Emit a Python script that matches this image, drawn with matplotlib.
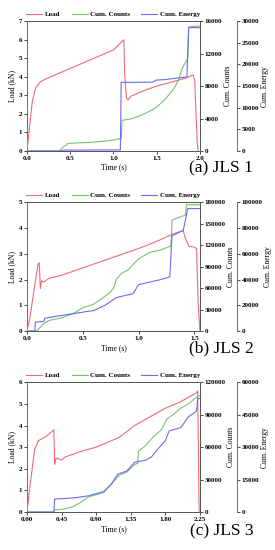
"""
Load / cumulative AE counts / cumulative AE energy vs time for three JLS specimens.
Stacked panels, each with two right-hand axes.
"""

import matplotlib
matplotlib.use("Agg")
import matplotlib.pyplot as plt

plt.rcParams["font.family"] = ["Liberation Serif", "DejaVu Serif"]
plt.rcParams["font.weight"] = "bold"

RED = "#ee6b77"
GREEN = "#74c474"
BLUE = "#6b6bf0"

# ── JLS 1 ─────────────────────────────────────────────────────────────────────
t_load_1 = [0, 0.03, 0.06, 0.1, 0.15, 0.2, 0.35, 0.5, 0.7, 0.9, 1.0, 1.12, 1.13, 1.15,
            1.17, 1.2, 1.35, 1.5, 1.7, 1.85, 1.92, 1.94, 1.95, 1.97, 1.98]
load_1 = [0, 1.3, 2.6, 3.4, 3.7, 3.85, 4.15, 4.45, 4.85, 5.25, 5.45, 6.0, 4.2, 2.85,
          2.75, 2.95, 3.25, 3.5, 3.75, 3.95, 4.1, 3.8, 2.5, 0.4, 0]
t_cnt_1 = [0, 0.38, 0.4, 0.43, 0.45, 0.47, 0.5, 0.7, 0.9, 1.0, 1.07, 1.09, 1.1, 1.2,
           1.3, 1.4, 1.5, 1.6, 1.7, 1.75, 1.8, 1.85, 1.86, 1.87, 2.0]
cnt_1 = [0, 0, 300, 600, 700, 900, 950, 1050, 1200, 1350, 1500, 1500, 3770, 3950,
         4300, 4800, 5400, 6400, 7700, 8700, 10300, 11200, 11500, 15300, 15400]
t_eng_1 = [0, 0.4, 0.42, 1.08, 1.09, 1.45, 1.5, 1.6, 1.75, 1.85, 1.86, 1.87, 2.0]
eng_1 = [0, 0, 200, 250, 15850, 15900, 16400, 16500, 16900, 17100, 23000, 28500, 28500]

# ── JLS 2 ─────────────────────────────────────────────────────────────────────
t_load_2 = [0, 0.03, 0.06, 0.1, 0.11, 0.12, 0.13, 0.15, 0.2, 0.3, 0.5, 0.7, 0.9,
            1.0, 1.1, 1.2, 1.3, 1.4, 1.42, 1.45, 1.5, 1.52, 1.535, 1.55]
load_2 = [0, 0.6, 1.5, 2.6, 2.65, 1.65, 1.95, 1.9, 2.05, 2.15, 2.45, 2.75, 3.05,
          3.2, 3.37, 3.55, 3.75, 3.9, 3.6, 3.3, 3.25, 3.2, 1.0, 0]
t_cnt_2 = [0, 0.07, 0.1, 0.15, 0.2, 0.3, 0.4, 0.5, 0.6, 0.7, 0.75, 0.78, 0.8, 0.85,
           0.9, 1.0, 1.1, 1.2, 1.29, 1.3, 1.35, 1.42, 1.43, 1.55]
cnt_2 = [0, 0, 2000, 10800, 15000, 18000, 23400, 32400, 37800, 48600, 55000, 61200,
         72000, 81000, 84600, 100800, 109800, 113400, 118800, 154800, 158000, 162000,
         176400, 176400]
t_eng_2 = [0, 0.07, 0.075, 0.15, 0.16, 0.3, 0.45, 0.6, 0.7, 0.8, 0.85, 0.95, 1.0,
           1.1, 1.2, 1.28, 1.3, 1.4, 1.42, 1.44, 1.55]
eng_2 = [0, 0, 7000, 7500, 10000, 12000, 14000, 16000, 20000, 26000, 27000, 29000,
         36000, 38000, 40000, 42000, 74000, 78000, 86000, 95000, 95000]

# ── JLS 3 ─────────────────────────────────────────────────────────────────────
t_load_3 = [0, 0.05, 0.1, 0.15, 0.25, 0.35, 0.36, 0.38, 0.45, 0.5, 0.7, 0.9, 1.0,
            1.2, 1.4, 1.5, 1.6, 1.8, 2.0, 2.2, 2.22, 2.23, 2.24]
load_3 = [0, 1.5, 2.9, 3.3, 3.5, 3.8, 2.2, 2.5, 2.4, 2.55, 2.8, 3.0, 3.15,
          3.45, 4.0, 4.2, 4.4, 4.8, 5.1, 5.5, 5.6, 3.0, 0]
t_cnt_3 = [0, 0.35, 0.36, 0.5, 0.6, 0.7, 0.8, 0.9, 1.0, 1.1, 1.2, 1.3, 1.4, 1.44,
           1.45, 1.55, 1.65, 1.75, 1.82, 1.9, 2.0, 2.1, 2.2, 2.25]
cnt_3 = [0, 0, 2000, 3000, 5000, 9000, 14000, 16000, 18000, 26000, 34000, 37000,
         44000, 45000, 56000, 62000, 70000, 76000, 86000, 90000, 96000, 100000,
         106000, 108000]
t_eng_3 = [0, 0.35, 0.36, 0.6, 0.8, 1.0, 1.1, 1.18, 1.3, 1.4, 1.55, 1.62, 1.7, 1.8,
           1.85, 2.0, 2.1, 2.2, 2.21, 2.22, 2.25]
eng_3 = [0, 0, 6000, 6500, 7500, 9500, 13000, 17500, 19000, 23000, 24000, 25500,
         29000, 33000, 37500, 39000, 44000, 46500, 48000, 52500, 52500]

PANELS = [
    dict(t_load=t_load_1, load=load_1, t_cnt=t_cnt_1, cnt=cnt_1, t_eng=t_eng_1, eng=eng_1,
         xlim=2.0, xticks=[0, 0.5, 1.0, 1.5, 2.0], xfmt="{:.1f}",
         ylim=7, yticks=range(0, 8),
         clim=16000, cticks=range(0, 16001, 4000),
         elim=30000, eticks=range(0, 30001, 5000),
         label="(a) JLS 1", rect=[0.098, 0.7255, 0.629, 0.236], label_y=0.68),
    dict(t_load=t_load_2, load=load_2, t_cnt=t_cnt_2, cnt=cnt_2, t_eng=t_eng_2, eng=eng_2,
         xlim=1.55, xticks=[0, 0.5, 1.0, 1.5], xfmt="{:.1f}",
         ylim=5, yticks=range(0, 6),
         clim=180000, cticks=range(0, 180001, 30000),
         elim=100000, eticks=range(0, 100001, 20000),
         label="(b) JLS 2", rect=[0.098, 0.398, 0.629, 0.2345], label_y=0.352),
    dict(t_load=t_load_3, load=load_3, t_cnt=t_cnt_3, cnt=cnt_3, t_eng=t_eng_3, eng=eng_3,
         xlim=2.25, xticks=[0, 0.45, 0.9, 1.35, 1.8, 2.25], xfmt="{:.2f}",
         ylim=6, yticks=range(0, 7),
         clim=120000, cticks=range(0, 120001, 30000),
         elim=60000, eticks=range(0, 60001, 15000),
         label="(c) JLS 3", rect=[0.098, 0.069, 0.629, 0.236], label_y=0.02),
]

TICK_FS = 5.0
LABEL_FS = 5.5


def draw_panel(fig, p):
    ax = fig.add_axes(p["rect"])
    ax2 = ax.twinx()
    ax3 = ax.twinx()
    ax3.spines["right"].set_position(("axes", 1.214))

    l1, = ax.plot(p["t_load"], p["load"], color=RED, lw=0.8, label="Load", zorder=3)
    l2, = ax2.plot(p["t_cnt"], p["cnt"], color=GREEN, lw=0.8, label="Cum. Counts")
    l3, = ax3.plot(p["t_eng"], p["eng"], color=BLUE, lw=0.8, label="Cum. Energy")

    ax.set_xlim(0, p["xlim"])
    ax.set_xticks(p["xticks"])
    ax.set_xticklabels([p["xfmt"].format(v) for v in p["xticks"]])
    ax.set_ylim(0, p["ylim"])
    ax.set_yticks(list(p["yticks"]))
    ax2.set_ylim(0, p["clim"])
    ax2.set_yticks(list(p["cticks"]))
    ax3.set_ylim(0, p["elim"])
    ax3.set_yticks(list(p["eticks"]))

    for a in (ax, ax2, ax3):
        a.tick_params(labelsize=TICK_FS, length=2, width=0.5, pad=1.5)
        for s in a.spines.values():
            s.set_linewidth(0.6)
            s.set_color("#555555")
    ax3.spines["left"].set_visible(False)
    ax3.spines["top"].set_visible(False)
    ax3.spines["bottom"].set_visible(False)
    ax2.spines["left"].set_visible(False)

    ax.set_xlabel("Time (s)", fontsize=LABEL_FS, labelpad=2)
    ax.set_ylabel("Load (kN)", fontsize=LABEL_FS, labelpad=2)
    ax2.set_ylabel("Cum. Counts", fontsize=LABEL_FS, labelpad=1)
    ax3.set_ylabel("Cum. Energy", fontsize=LABEL_FS, labelpad=1)

    ax.legend(handles=[l1, l2, l3], loc="lower center", bbox_to_anchor=(0.5, 1.0),
              ncol=3, frameon=False, fontsize=TICK_FS, handlelength=2.3,
              columnspacing=1.6, borderaxespad=0.2, handletextpad=0.4)

    fig.text(0.805, p["label_y"], p["label"], fontsize=12.5, fontweight="normal",
             ha="center", va="bottom")


def main():
    fig = plt.figure(figsize=(2.75, 5.5), dpi=100)
    for p in PANELS:
        draw_panel(fig, p)
    fig.savefig("out.png", dpi=100)
    plt.close(fig)


if __name__ == "__main__":
    main()
